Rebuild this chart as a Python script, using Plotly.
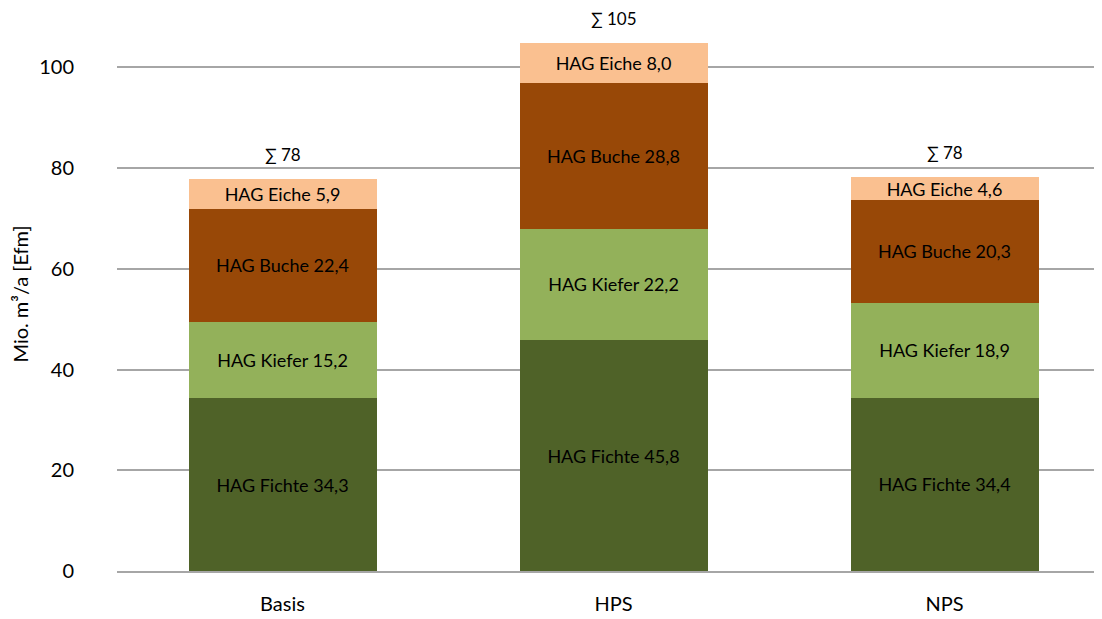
import plotly.graph_objects as go

categories = ["Basis", "HPS", "NPS"]
series_names = ["HAG Fichte", "HAG Kiefer", "HAG Buche", "HAG Eiche"]
fichte = [34.3, 45.8, 34.4]
kiefer = [15.2, 22.2, 18.9]
buche = [22.4, 28.8, 20.3]
eiche = [5.9, 8.0, 4.6]
sum_labels = ["∑ 78", "∑ 105", "∑ 78"]
colors = ["#4F6228", "#93B15A", "#984807", "#FAC090"]

values = [fichte, kiefer, buche, eiche]
fmt = lambda v: f"{v:.1f}".replace(".", ",")
FONT = "Lato, Open Sans, sans-serif"

fig = go.Figure()
for name, vals, col in zip(series_names, values, colors):
    fig.add_trace(go.Bar(
        x=categories, y=vals, name=name,
        marker=dict(color=col, line=dict(width=0)),
        text=[f"{name} {fmt(v)}" for v in vals],
        textposition="inside", insidetextanchor="middle",
        textangle=0,
        textfont=dict(color="black", size=18, family=FONT),
        constraintext="none",
        hoverinfo="skip",
    ))

totals = [a + b + c + d for a, b, c, d in zip(fichte, kiefer, buche, eiche)]
for cat, tot, lab in zip(categories, totals, sum_labels):
    fig.add_annotation(x=cat, y=tot, text=lab, showarrow=False,
                       yanchor="bottom", yshift=12,
                       font=dict(color="black", size=17, family=FONT))

fig.update_layout(
    barmode="stack",
    bargap=0.432,
    width=1102, height=611,
    margin=dict(l=109, r=0, t=9, b=48, autoexpand=False),
    plot_bgcolor="white", paper_bgcolor="white",
    showlegend=False,
    uniformtext=dict(minsize=10, mode="show"),
    font=dict(family=FONT, color="black"),
    xaxis=dict(
        showline=True, linecolor="#A6A6A6", linewidth=1.5,
        tickfont=dict(size=20), ticks="", automargin=False,
        ticklabelstandoff=14,
    ),
    yaxis=dict(
        range=[0, 110], tickvals=[0, 20, 40, 60, 80, 100],
        showgrid=True, gridcolor="#A6A6A6", gridwidth=1.5,
        zeroline=False, showline=False, automargin=False,
        tickfont=dict(size=20), ticklabelstandoff=42,
        title=dict(text="Mio. m³/a [Efm]", font=dict(size=20), standoff=8),
    ),
)

fig.write_html(
    "out.html",
    post_script="document.documentElement.style.overflow='hidden';document.body.style.overflow='hidden';",
)
